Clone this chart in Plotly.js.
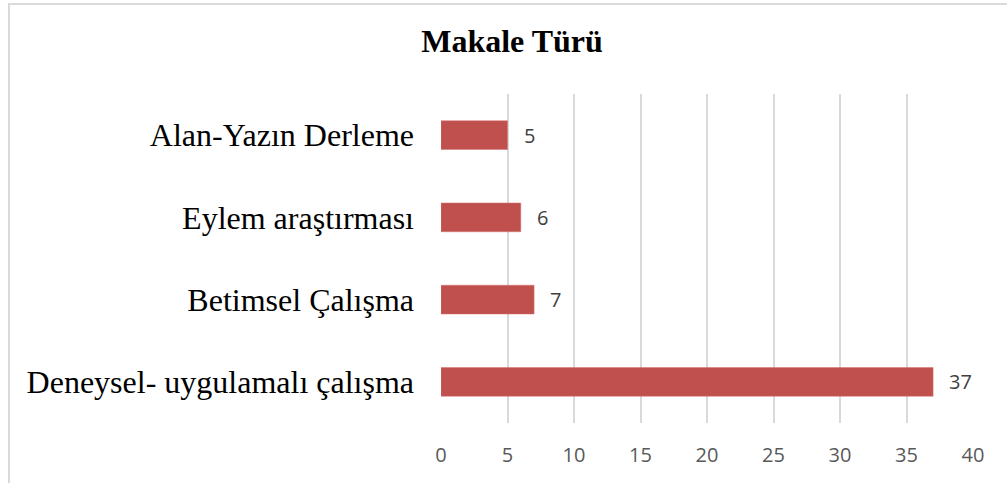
<!DOCTYPE html>
<html>
<head>
<meta charset="utf-8">
<script src="https://cdn.plot.ly/plotly-3.0.1.min.js"></script>
<style>
  html, body { margin: 0; padding: 0; background: #fff; }
  #wrap { position: relative; width: 1007px; height: 483px; overflow: hidden; }
  #chart { width: 1007px; height: 483px; }
  #frame { position: absolute; left: 8px; top: 3px; width: 1020px; height: 500px;
           border-left: 2px solid #d9d9d9; border-top: 2px solid #d9d9d9; pointer-events: none; }
</style>
</head>
<body>
<div id="wrap">
  <div id="chart"></div>
  <div id="frame"></div>
</div>
<script>
const chartTitle = "Makale Türü";
const categories = ["Deneysel- uygulamalı çalışma", "Betimsel Çalışma", "Eylem araştırması", "Alan-Yazın Derleme"];
const counts = [37, 7, 6, 5];
const xTicks = [0, 5, 10, 15, 20, 25, 30, 35, 40];

const trace = {
  type: "bar",
  orientation: "h",
  x: counts,
  y: categories,
  marker: { color: "#C0504D", line: { color: "#D07470", width: 0.5 } },
  hoverinfo: "none"
};

const annotations = counts.map((v, i) => ({
  x: v, y: categories[i], xref: "x", yref: "y",
  text: String(v), showarrow: false, xanchor: "left", yanchor: "middle",
  xshift: 14,
  font: { family: "Open Sans, sans-serif", size: 20, color: "#404040" }
}));

const layout = {
  width: 1007, height: 483,
  margin: { l: 441, r: 34, t: 94, b: 60 },
  paper_bgcolor: "#fff", plot_bgcolor: "#fff",
  showlegend: false,
  bargap: 0.65,
  title: {
    text: "<b>" + chartTitle + "</b>",
    font: { family: "Liberation Serif, Times New Roman, serif", size: 32, color: "#000" },
    x: 512 / 1007, xref: "container", xanchor: "center",
    y: 1 - 41 / 483, yref: "container", yanchor: "middle"
  },
  xaxis: {
    range: [0, 40],
    tickvals: xTicks,
    ticktext: xTicks.map(String),
    showgrid: true, gridcolor: "#d9d9d9", gridwidth: 2,
    zeroline: false, showline: false, ticks: "",
    ticklabelstandoff: 18,
    tickfont: { family: "Open Sans, sans-serif", size: 20, color: "#595959" },
    fixedrange: true
  },
  yaxis: {
    type: "category",
    categoryorder: "array", categoryarray: categories,
    showgrid: false, zeroline: false, showline: false, ticks: "",
    ticklabelstandoff: 26,
    tickfont: { family: "Liberation Serif, Times New Roman, serif", size: 32, color: "#000" },
    fixedrange: true
  },
  annotations: annotations
};

Plotly.newPlot("chart", [trace], layout, { displayModeBar: false, staticPlot: true });
</script>
</body>
</html>
